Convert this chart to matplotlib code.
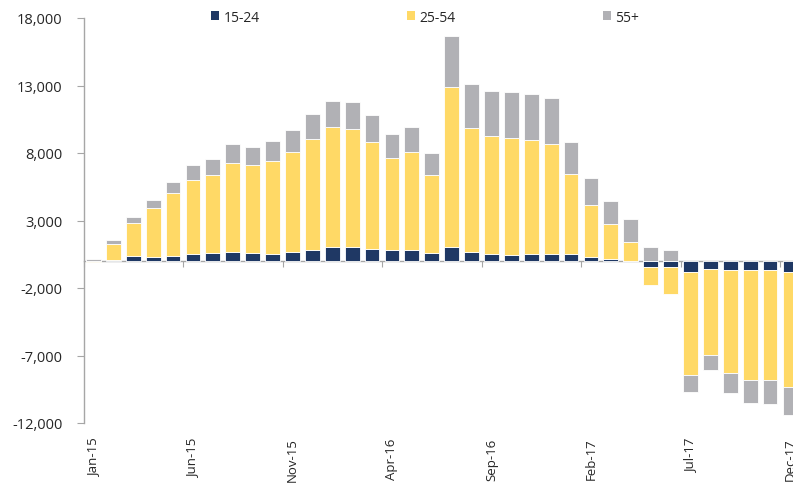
import matplotlib
matplotlib.use("Agg")
import matplotlib.pyplot as plt
import numpy as np
from matplotlib.patches import Patch

months = ["Jan-15", "Feb-15", "Mar-15", "Apr-15", "May-15", "Jun-15", "Jul-15", "Aug-15", "Sep-15",
          "Oct-15", "Nov-15", "Dec-15", "Jan-16", "Feb-16", "Mar-16", "Apr-16", "May-16", "Jun-16",
          "Jul-16", "Aug-16", "Sep-16", "Oct-16", "Nov-16", "Dec-16", "Jan-17", "Feb-17", "Mar-17",
          "Apr-17", "May-17", "Jun-17", "Jul-17", "Aug-17", "Sep-17", "Oct-17", "Nov-17", "Dec-17"]

age_15_24 = [20, 100, 350, 270, 395, 494, 568, 640, 590, 543, 667, 790, 1012, 1012, 864, 790, 815, 568,
             1062, 691, 494, 469, 494, 543, 494, 272, 148, -60, -444, -444, -839, -593, -642, -642, -691, -790]
age_25_54 = [-80, 1130, 2465, 3630, 4640, 5530, 5800, 6640, 6545, 6890, 7380, 8245, 8913, 8790, 7950, 6840, 7234, 5827,
             11826, 9185, 8790, 8666, 8468, 8148, 5950, 3851, 2593, 1432, -1358, -2025, -7630, -6370, -7629, -8148, -8148, -8543]
age_55_plus = [150, 330, 445, 640, 815, 1110, 1160, 1360, 1335, 1456, 1655, 1850, 1950, 1950, 1976, 1778, 1900, 1580,
               3753, 3234, 3334, 3408, 3408, 3382, 2370, 2000, 1679, 1654, 1037, 790, -1209, -1111, -1531, -1753, -1778, -2074]

series = [("15-24", age_15_24, "#1F3864"),
          ("25-54", age_25_54, "#FFD966"),
          ("55+", age_55_plus, "#B1B1B5")]

yticks = [-12000, -7000, -2000, 3000, 8000, 13000, 18000]

plt.rcParams['font.family'] = ['Open Sans', 'DejaVu Sans']

fig = plt.figure(figsize=(7.93, 4.85), dpi=100)
ax = fig.add_axes([83.5 / 793, 1 - 424 / 485, 716.4 / 793, (424 - 19) / 485])

x = np.arange(len(months))
pos_bottom = np.zeros(len(months))
neg_bottom = np.zeros(len(months))
for name, vals, col in series:
    v = np.array(vals, dtype=float)
    bottom = np.where(v >= 0, pos_bottom, neg_bottom)
    ax.bar(x, v, bottom=bottom, width=0.74, color=col, edgecolor="white", linewidth=0.6, zorder=2)
    pos_bottom = pos_bottom + np.where(v >= 0, v, 0)
    neg_bottom = neg_bottom + np.where(v < 0, v, 0)

ax.set_xlim(-0.5, len(months) - 0.5)
ax.set_ylim(-12000, 18000)
ax.set_yticks(yticks)
ax.set_yticklabels([f"{t:,}" for t in yticks], fontsize=10.5, color="#262626")
ax.tick_params(axis="y", length=5, color="#A6A6A6", pad=10)

for s in ["top", "right", "bottom"]:
    ax.spines[s].set_visible(False)
ax.spines["left"].set_color("#A6A6A6")
ax.spines["left"].set_linewidth(1.0)

# category labels at the bottom
ax.set_xticks(x[::5])
ax.set_xticklabels(months[::5], rotation=90, fontsize=9.5, color="#262626", va="top", ha="center")
ax.tick_params(axis="x", length=0, pad=10.5)

# zero-line category axis with tick marks at boundaries
sec = ax.secondary_xaxis(12000 / 30000)
sec.set_xticks(np.arange(-0.5, len(months), 5))
sec.set_xticklabels([])
sec.tick_params(axis="x", length=4, color="#A6A6A6", direction="out")
sec.spines["bottom"].set_color("#A6A6A6")
sec.spines["bottom"].set_linewidth(1.0)

handles = [Patch(facecolor=c, edgecolor="none", label=n) for n, _, c in series]
fig.legend(handles=handles, loc="center left", bbox_to_anchor=(211 / 793, 1 - 18 / 485), ncol=3,
           frameon=False, fontsize=10, handlelength=0.6, handleheight=0.6, handletextpad=0.3,
           columnspacing=10.6, borderpad=0, borderaxespad=0, labelcolor="#262626")

fig.savefig("out.png", dpi=100)
